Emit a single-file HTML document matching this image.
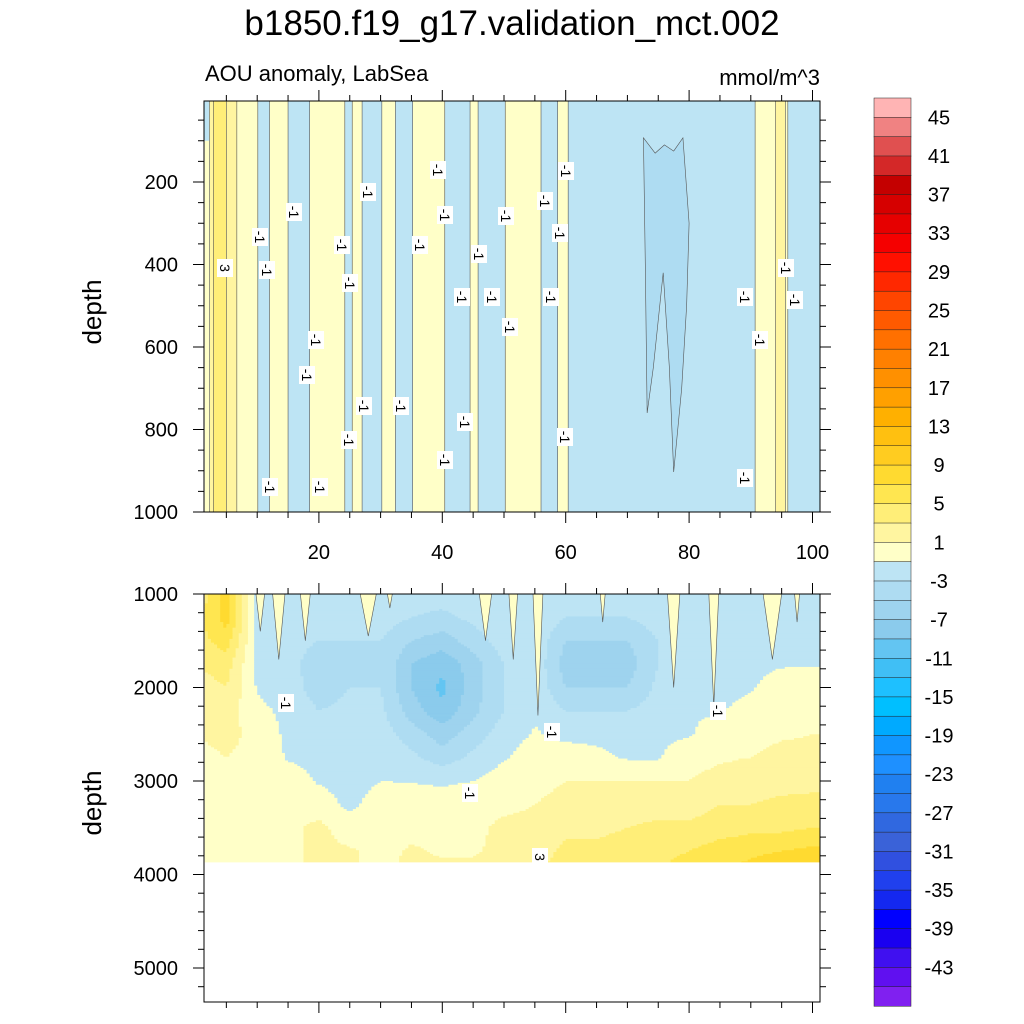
<!DOCTYPE html>
<html><head><meta charset="utf-8">
<style>
html,body{margin:0;padding:0;background:#fff;}
svg{display:block;font-family:"Liberation Sans",sans-serif;}
</style></head>
<body>
<svg id="chart" width="1024" height="1024" viewBox="0 0 1024 1024" xmlns="http://www.w3.org/2000/svg">
<text x="512" y="35" font-size="35" text-anchor="middle">b1850.f19_g17.validation_mct.002</text>
<text x="205" y="81" font-size="22">AOU anomaly, LabSea</text>
<text x="820" y="85" font-size="22" text-anchor="end">mmol/m^3</text>
<text transform="translate(101,312) rotate(-90)" font-size="26" text-anchor="middle">depth</text>
<text transform="translate(101,803) rotate(-90)" font-size="26" text-anchor="middle">depth</text>
<g id="topPanel"></g>
<g id="botPanel"></g>
<g id="labels"></g>
<g id="axes"></g>
<g id="cbar"></g>
</svg>
<script>
// ---- data ----
const cbColors = ["#ffb4b4","#f08282","#e05050","#d42828","#c40000","#d60000","#e60000","#f50000","#ff1000","#ff2800","#ff4500","#ff5a00","#ff7000","#ff8000","#ff9000","#ffa000","#ffb000","#ffc010","#ffcc20","#ffda30","#ffe650","#ffee78","#fff5a0","#ffffc8",
"#bde4f4","#aedcf2","#9ed3ee","#8bcbec","#63c5f2","#40bff5","#1ec0ff","#00bfff","#00aaff","#1096ff","#1e90ff","#2080f0","#2878ec","#3068e0","#3a62d8","#3050e0","#2040ee","#1428f0","#0000ff","#1a00f0","#4010f0","#6010f0","#8020f0"];
const cbLabels = [45,41,37,33,29,25,21,17,13,9,5,1,-3,-7,-11,-15,-19,-23,-27,-31,-35,-39,-43];
// top panel: vertical stripes (x start, x end, value)
const stripeX0 = [1.5,2.3,2.9,5.0,6.7,10.1,12.0,15.0,18.5,24.2,25.4,27.0,30.2,32.4,35.2,40.4,44.5,45.8,50.2,56.0,58.7,60.4,90.7,94.0,95.6,96.0];
const stripeX1 = [2.3,2.9,5.0,6.7,10.1,12.0,15.0,18.5,24.2,25.4,27.0,30.2,32.4,35.2,40.4,44.5,45.8,50.2,56.0,58.7,60.4,90.7,94.0,95.6,96.0,101.3];
const stripeV  = [0,2,4,2,0,-2,0,-2,0,-2,0,-2,0,-2,0,-2,0,-2,0,-2,0,-2,0,2,0,-2];
const wedgeX = [72.6,74.5,76,77.5,79,80,79.6,78.8,77.5,76.8,75.8,74.2,73.2,72.9];
const wedgeD = [93,130,110,125,93,300,500,700,903,650,420,650,760,400];
// bottom panel grid: columns x, rows depth
const gridX = [0,5,10,15,20,25,30,35,40,45,50,55,60,65,70,75,80,85,90,95,100];
const gridD = [1000,1250,1500,1750,2000,2250,2500,2750,3000,3250,3500,3750,4000];
const gridV = [
 [3,4,4,3,2,1.5,1,0.5,0.5,0,-0.5,-1.2,-1.2],
 [8,8,6,4,3,2,1.5,1,0.5,0.5,0.5,0.5,0.5],
 [-1.5,-1.5,-1.5,-1.5,-1.2,-0.5,0.5,0.5,0.5,0.5,0.5,0.5,0.5],
 [-1.5,-2,-2,-2,-2,-1.5,-1.5,-1.2,0,0.5,0.5,0.5,0.5],
 [-1.5,-2,-3,-4.5,-4,-3,-2,-1.5,-1.2,0,1.5,1.5,1.5],
 [-1.5,-2,-3,-4,-3,-2.5,-2,-2,-1.8,-1.5,0,1.2,1.2],
 [-1.5,-2,-3,-3,-3,-2.5,-2,-1.5,-1,0,0.5,0.5,0.5],
 [-2,-3,-5,-7,-7,-6,-4,-2.5,-1.1,0,0.5,1.2,1.5],
 [-2,-3.5,-6,-8.5,-9.5,-8.5,-6,-4,-1.3,0,0.5,0.8,1.5],
 [-1.5,-2.5,-4,-6,-6,-5.5,-4,-2.5,-1,0,0.5,0.8,1.5],
 [-1.5,-1.5,-2,-3,-3,-3,-2,-1.2,0,0.5,1.5,1.5,2],
 [-1.5,-1.5,-1.5,-1.5,-1.5,-1.3,-0.8,0,0.5,1,1.5,2,3],
 [-1.5,-3,-5,-6,-5,-3,-1.5,0,1,1.5,2.5,3.5,4],
 [-2,-3,-5,-6,-5,-3,-1.5,-0.5,1,1.5,2.5,3.5,4.5],
 [-1.5,-3,-5,-6,-5,-3,-2,-1.2,1,2,3,4,4.5],
 [-1.5,-2,-3,-3,-2.5,-2,-1.5,-1.2,1,2,3.5,4.5,5],
 [-1.5,-2,-2,-2,-1.5,-1.2,-1.2,0.5,1,2,3.5,5,6],
 [-1.5,-2,-3,-3,-2,-1.2,0,0.8,1.5,3,4,6,7],
 [-1.5,-2,-2,-1.5,-1.2,0,0.5,1,2,3,4.5,6.5,8],
 [-1.5,-1.5,-1.5,-1.2,0,0.5,0.8,1.5,2.2,3.5,4.5,7,9],
 [-1.5,-1.5,-1.5,-1.2,0.5,0.5,1,1.5,2.5,3.5,5,7.5,10]
];
// narrow yellow spikes hanging from top of bottom panel: centre x, half width, bottom depth
const spikeX = [10.5,13.5,17.8,28,31.5,47,51.5,55.5,66,77.5,84,93.5,97.5];
const spikeW = [0.7,1,0.8,1.3,0.4,1,0.7,0.8,0.4,1,0.8,1.5,0.4];
const spikeD = [1400,1700,1500,1450,1150,1500,1700,2300,1300,2000,2200,1700,1300];
const topTicks = [200,400,600,800,1000];
const botTicks = [1000,2000,3000,4000,5000];
const xTicks = [20,40,60,80,100];
const dataMaxDepth = 3866;

// ---- scales ----
const NS="http://www.w3.org/2000/svg";
const PL=204, PR=820;
const xS = v => 195.5 + v*6.17;
const yT = d => 99.5 + d*0.4125;
const yB = d => 594 + (d-1000)*0.0935;
const TT=101, TB=512, BT=594, BB=1002;
function colorOf(v){ let n=Math.floor((49-v)/2); n=Math.max(1,Math.min(47,n)); return cbColors[n-1]; }
function mk(tag, attrs, parent){ const e=document.createElementNS(NS,tag); for(const k in attrs) e.setAttribute(k,attrs[k]); parent.appendChild(e); return e; }

// ---- top panel ----
const tp=document.getElementById('topPanel');
for(let i=0;i<stripeV.length;i++){
  const x0=Math.max(PL,xS(stripeX0[i])), x1=Math.min(PR,xS(stripeX1[i]));
  const r=mk('rect',{x:x0,y:TT,width:x1-x0+0.5,height:TB-TT,fill:colorOf(stripeV[i])},tp);
  
  
  if(i>0){ const l=mk('line',{x1:x0,x2:x0,y1:TT,y2:TB,stroke:'#555',"stroke-width":0.6},tp);
      }
}
{ const r=mk('rect',{x:PL,y:TT,width:5,height:yT(100)-TT,fill:colorOf(-2)},tp);
    }
{ const pts=wedgeX.map((x,i)=>xS(x)+','+yT(wedgeD[i])).join(' ');
  const p=mk('polygon',{points:pts,fill:colorOf(-4),stroke:'#555','stroke-width':0.6},tp);
    }

// ---- bottom panel ----
const bp=document.getElementById('botPanel');
function interp(x,d){
  let i=0; while(i<gridX.length-2 && x>gridX[i+1]) i++;
  let j=0; while(j<gridD.length-2 && d>gridD[j+1]) j++;
  let tx=(x-gridX[i])/(gridX[i+1]-gridX[i]); tx=Math.max(0,Math.min(1,tx));
  let ty=(d-gridD[j])/(gridD[j+1]-gridD[j]); ty=Math.max(0,Math.min(1,ty));
  const a=gridV[i][j],b=gridV[i+1][j],c=gridV[i][j+1],e=gridV[i+1][j+1];
  return a*(1-tx)*(1-ty)+b*tx*(1-ty)+c*(1-tx)*ty+e*tx*ty;
}
const dx=0.5, dd=20;
for(let d=1000; d<dataMaxDepth; d+=dd){
  const d2=Math.min(dataMaxDepth,d+dd);
  let runStart=1.5, runCol=null;
  for(let x=1.5; x<=101.5; x+=dx){
    const col = x<101.3 ? colorOf(interp(x+dx/2,d+dd/2)) : null;
    if(col!==runCol){
      if(runCol!==null){
        const x0=Math.max(PL,xS(runStart)), x1=Math.min(PR,xS(x));
        const r=mk('rect',{x:x0,y:yB(d),width:x1-x0+0.4,height:yB(d2)-yB(d)+0.4,fill:runCol},bp);
        
        
      }
      runStart=x; runCol=col;
    }
  }
}
spikeX.forEach((x,i)=>{
  const pts=[xS(x-spikeW[i])+','+BT, xS(x+spikeW[i])+','+BT, xS(x)+','+yB(spikeD[i])].join(' ');
  const p=mk('polygon',{points:pts,fill:colorOf(0),stroke:'#555','stroke-width':0.6},bp);
  
  
});

// ---- contour labels ----
const lb=document.getElementById('labels');
const labPos=[[438,170,'-1'],[566,171,'-1'],[294,212,'-1'],[368,192,'-1'],[445,215,'-1'],[506,216,'-1'],[545,201,'-1'],[260,237,'-1'],[342,245,'-1'],[420,245,'-1'],[560,233,'-1'],[267,270,'-1'],[479,254,'-1'],[350,283,'-1'],[462,297,'-1'],[492,297,'-1'],[551,297,'-1'],[745,297,'-1'],[510,327,'-1'],[786,268,'-1'],[795,300,'-1'],[316,340,'-1'],[760,340,'-1'],[307,375,'-1'],[364,406,'-1'],[401,406,'-1'],[465,422,'-1'],[349,440,'-1'],[565,437,'-1'],[445,460,'-1'],[270,487,'-1'],[320,487,'-1'],[745,478,'-1'],[225,268,'3'],[286,703,'-1'],[552,732,'-1'],[718,711,'-1'],[470,793,'-1'],[540,857,'3']];
labPos.forEach(p=>{
  const g=mk('g',{transform:`translate(${p[0]},${p[1]}) rotate(90)`},lb);
  
  
  mk('rect',{x:-9,y:-8,width:18,height:16,fill:'#fff'},g);
  const t=mk('text',{x:0,y:5,'font-size':14,'text-anchor':'middle'},g); t.textContent=p[2];
});

// ---- axes ----
const ax=document.getElementById('axes');
function line(x1,y1,x2,y2,w,name){ const l=mk('line',{x1,y1,x2,y2,stroke:'#000','stroke-width':w||1},ax);
    return l; }
function text(x,y,s,anchor,name){ const t=mk('text',{x,y,'font-size':20,'text-anchor':anchor||'middle'},ax); t.textContent=s;
    }
[[TT,TB],[BT,BB]].forEach(([t,b])=>{
  const r=mk('rect',{x:PL,y:t,width:PR-PL,height:b-t,fill:'none',stroke:'#000','stroke-width':1},ax);
   
  for(let v=5; v<=100; v+=5){
    const X=xS(v), L=(v%20===0)?11:6;
    line(X,t,X,t-L,1,'x-tick'); line(X,b,X,b+L,1,'x-tick');
  }
});
xTicks.forEach(v=>text(xS(v),559,String(v),'middle','x-tick-label'));
for(let d=50; d<=1000; d+=50){ const Y=yT(d); if(Y<TT) continue; const L=(d%200===0)?11:6;
  line(PL,Y,PL-L,Y,1,'y-tick'); line(PR,Y,PR+L,Y,1,'y-tick'); }
topTicks.forEach(d=>text(178,yT(d)+7,String(d),'end','y-tick-label'));
for(let d=1000; d<=5300; d+=200){ const Y=yB(d); const L=(d%1000===0)?11:6;
  line(PL,Y,PL-L,Y,1,'y-tick'); line(PR,Y,PR+L,Y,1,'y-tick'); }
botTicks.forEach(d=>text(178,yB(d)+7,String(d),'end','y-tick-label'));

// ---- colorbar ----
const cb=document.getElementById('cbar');
const CB0=98, CBH=(1006-98)/cbColors.length;
cbColors.forEach((c,i)=>{
  const r=mk('rect',{x:874,y:CB0+i*CBH,width:37,height:CBH+0.3,fill:c,stroke:'#222','stroke-width':0.5},cb);
  
  
});
cbLabels.forEach((v,i)=>{
  const Y=CB0+(1+2*i)*CBH;
  const t=mk('text',{x:939,y:Y+7,'font-size':20,'text-anchor':'middle'},cb);
  t.textContent=String(v);
  
  
});
</script>
</body></html>
